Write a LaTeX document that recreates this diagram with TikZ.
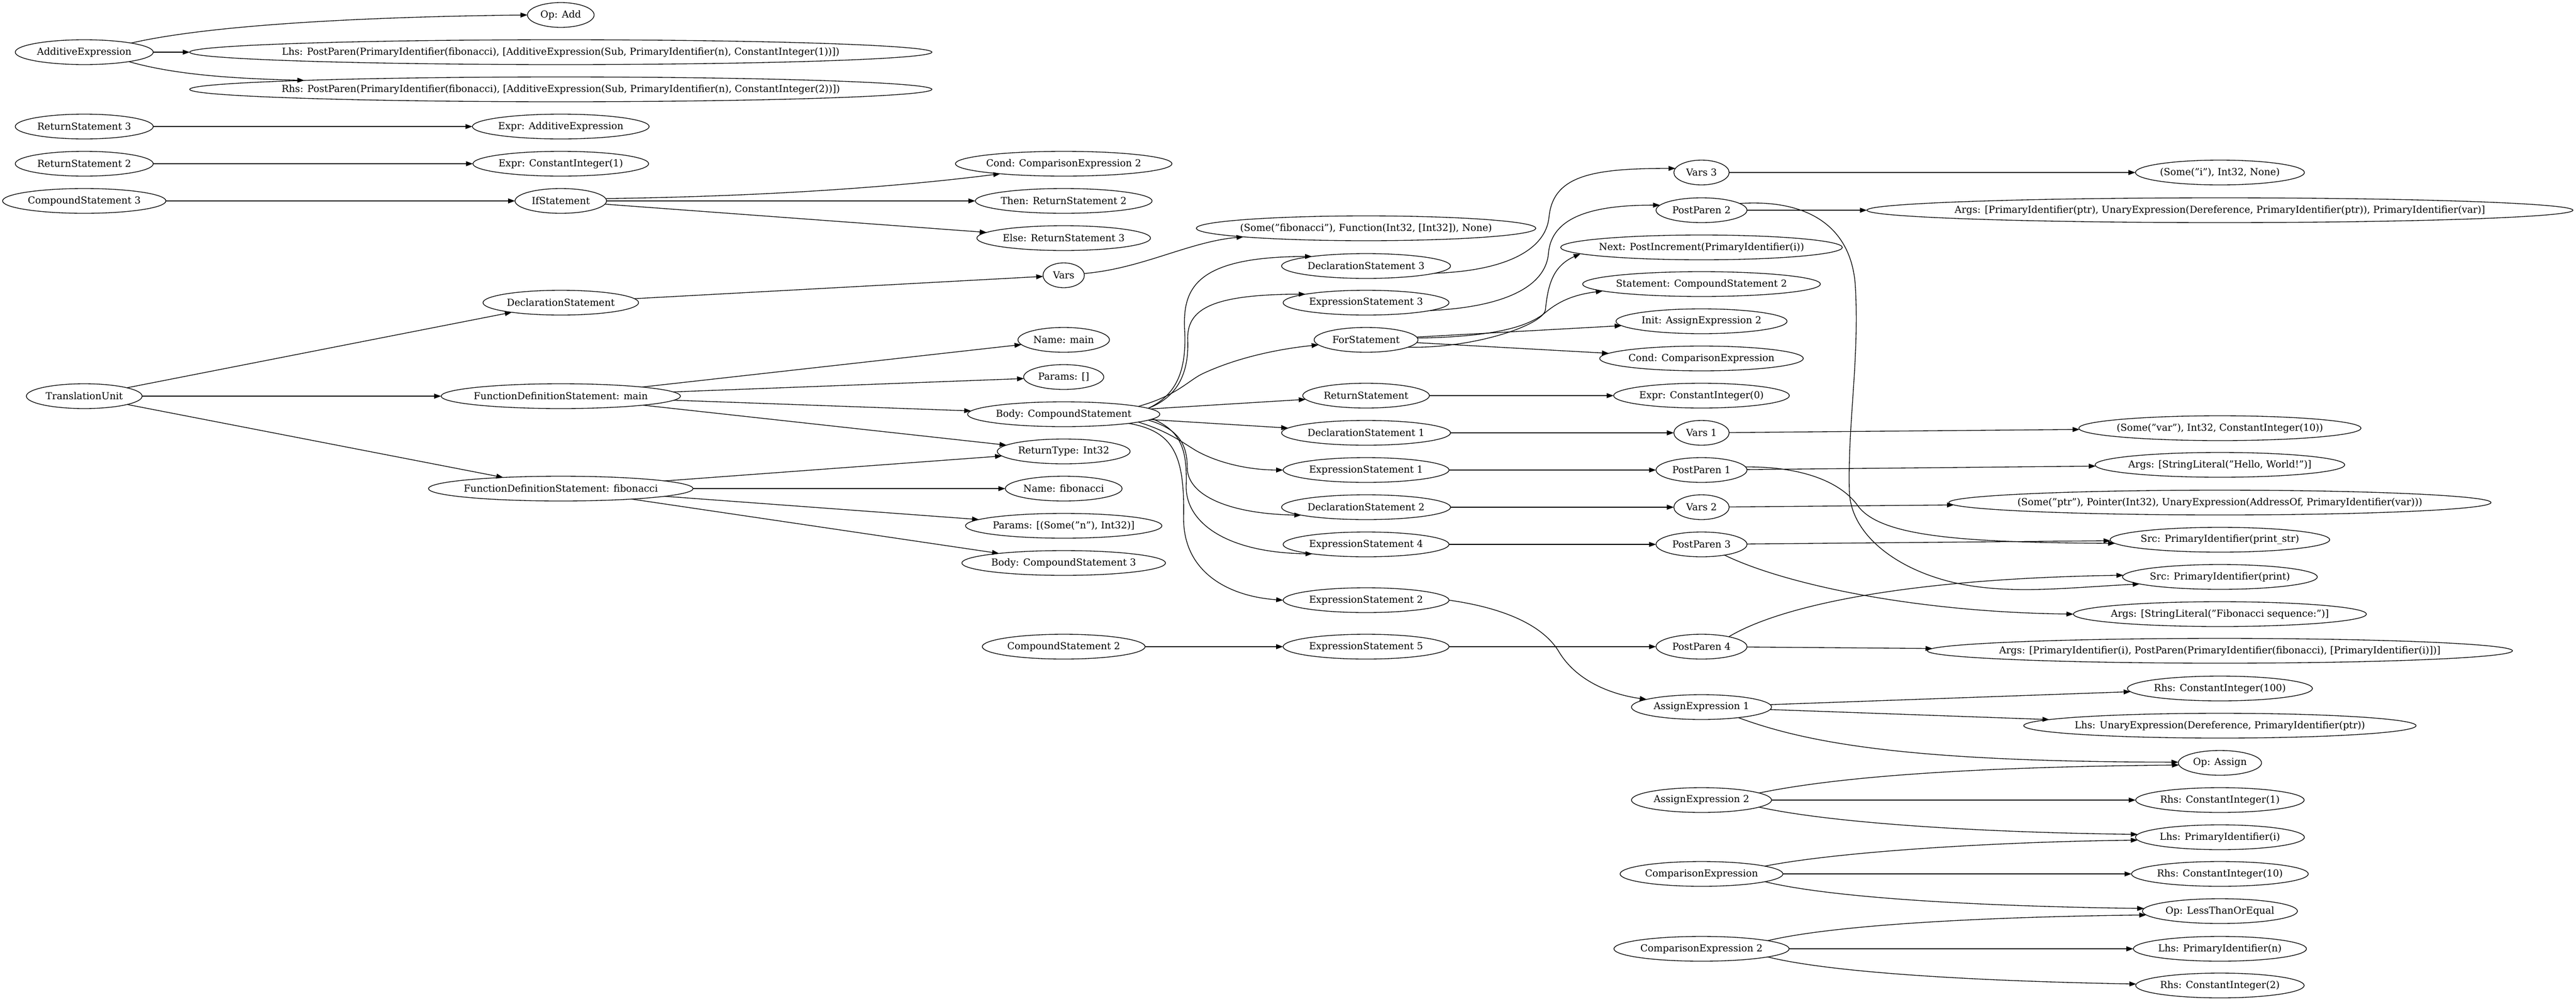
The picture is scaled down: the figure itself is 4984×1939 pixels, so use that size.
\documentclass[tikz,border=0pt]{standalone}
\usepackage{fontspec}
\setmainfont{DejaVu Serif}
\usetikzlibrary{shapes.geometric,arrows.meta}
\tikzset{
  gv/.style={draw, ellipse, line width=1pt, inner sep=0pt, outer sep=0pt,
    minimum height=36pt, font=\fontsize{14pt}{17pt}\selectfont},
  edg/.style={-{Triangle[length=10pt,width=7pt]}, line width=1pt},
}
\newcommand\gn[5]{\node[gv, minimum width=#4*0.75pt] (#1) at (#2,#3) {\hbox to 0pt{\hss #5\hss}};}
\begin{document}
\begin{tikzpicture}[x=0.75pt,y=-0.75pt]
\useasboundingbox (0,0) rectangle (4984,1939);
% column 0
\gn{aexp}{163}{101}{267}{AdditiveExpression}
\gn{ret3}{163}{245}{267}{ReturnStatement 3}
\gn{ret2}{163}{317}{267}{ReturnStatement 2}
\gn{cs3}{163}{389}{316}{CompoundStatement 3}
\gn{tu}{163}{767}{224}{TranslationUnit}
% column 1
\gn{opadd}{1085}{29}{129}{Op: Add}
\gn{lhs1}{1085}{101}{1436}{Lhs: PostParen(PrimaryIdentifier(fibonacci), [AdditiveExpression(Sub, PrimaryIdentifier(n), ConstantInteger(1))])}
\gn{rhs1}{1085}{173}{1436}{Rhs: PostParen(PrimaryIdentifier(fibonacci), [AdditiveExpression(Sub, PrimaryIdentifier(n), ConstantInteger(2))])}
\gn{expradd}{1085}{245}{342}{Expr: AdditiveExpression}
\gn{exprc1}{1085}{317}{340}{Expr: ConstantInteger(1)}
\gn{ifs}{1085}{389}{177}{IfStatement}
\gn{decl}{1085}{586}{301}{DeclarationStatement}
\gn{fmain}{1085}{767}{463}{FunctionDefinitionStatement: main}
\gn{ffib}{1085}{946}{512}{FunctionDefinitionStatement: fibonacci}
% column 2
\gn{cond2}{2058}{317}{419}{Cond: ComparisonExpression 2}
\gn{ifthen}{2058}{389}{342}{Then: ReturnStatement 2}
\gn{ifelse}{2058}{461}{336}{Else: ReturnStatement 3}
\gn{vars}{2058}{533}{80}{Vars}
\gn{nmain}{2058}{658}{177}{Name: main}
\gn{pmain}{2058}{730}{155}{Params: []}
\gn{body}{2058}{802}{372}{Body: CompoundStatement}
\gn{rtype}{2058}{874}{257}{ReturnType: Int32}
\gn{nfib}{2058}{946}{226}{Name: fibonacci}
\gn{pfib}{2058}{1018}{380}{Params: [(Some("n"), Int32)]}
\gn{bfib}{2058}{1090}{394}{Body: CompoundStatement 3}
\gn{cs2}{2058}{1252}{315}{CompoundStatement 2}
% column 3
\gn{somefib}{2643}{442}{657}{(Some("fibonacci"), Function(Int32, [Int32]), None)}
\gn{ds3}{2643}{515}{327}{DeclarationStatement 3}
\gn{es3}{2643}{586}{321}{ExpressionStatement 3}
\gn{fors}{2643}{658}{201}{ForStatement}
\gn{rets}{2643}{766}{245}{ReturnStatement}
\gn{ds1}{2643}{838}{327}{DeclarationStatement 1}
\gn{es1}{2643}{910}{321}{ExpressionStatement 1}
\gn{ds2}{2643}{982}{327}{DeclarationStatement 2}
\gn{es4}{2643}{1054}{321}{ExpressionStatement 4}
\gn{es2}{2643}{1162}{321}{ExpressionStatement 2}
\gn{es5}{2643}{1252}{321}{ExpressionStatement 5}
% column 4
\gn{vars3}{3292}{334}{107}{Vars 3}
\gn{pp2}{3292}{407}{176}{PostParen 2}
\gn{next}{3292}{479}{545}{Next: PostIncrement(PrimaryIdentifier(i))}
\gn{stmt}{3292}{550}{460}{Statement: CompoundStatement 2}
\gn{init}{3292}{622}{331}{Init: AssignExpression 2}
\gn{condc}{3292}{694}{394}{Cond: ComparisonExpression}
\gn{exprc0}{3292}{766}{340}{Expr: ConstantInteger(0)}
\gn{vars1}{3292}{838}{107}{Vars 1}
\gn{pp1}{3292}{910}{176}{PostParen 1}
\gn{vars2}{3292}{982}{107}{Vars 2}
\gn{pp3}{3292}{1054}{176}{PostParen 3}
\gn{pp4}{3292}{1252}{176}{PostParen 4}
\gn{asg1}{3292}{1369}{271}{AssignExpression 1}
\gn{asg2}{3292}{1549}{271}{AssignExpression 2}
\gn{cmp}{3292}{1692}{315}{ComparisonExpression}
\gn{cmp2}{3292}{1837}{339}{ComparisonExpression 2}
% column 5
\gn{somei}{4295}{334}{327}{(Some("i"), Int32, None)}
\gn{argsptr}{4295}{407}{1366}{Args: [PrimaryIdentifier(ptr), UnaryExpression(Dereference, PrimaryIdentifier(ptr)), PrimaryIdentifier(var)]}
\gn{somevar}{4295}{829}{546}{(Some("var"), Int32, ConstantInteger(10))}
\gn{argshello}{4295}{900}{483}{Args: [StringLiteral("Hello, World!")]}
\gn{someptr}{4295}{973}{1049}{(Some("ptr"), Pointer(Int32), UnaryExpression(AddressOf, PrimaryIdentifier(var)))}
\gn{srcps}{4295}{1045}{425}{Src: PrimaryIdentifier(print\_str)}
\gn{srcp}{4295}{1117}{377}{Src: PrimaryIdentifier(print)}
\gn{argsfib}{4295}{1189}{567}{Args: [StringLiteral("Fibonacci sequence:")]}
\gn{argsi}{4295}{1260}{1132}{Args: [PrimaryIdentifier(i), PostParen(PrimaryIdentifier(fibonacci), [PrimaryIdentifier(i)])]}
\gn{rhs100}{4295}{1333}{358}{Rhs: ConstantInteger(100)}
\gn{lhsu}{4295}{1405}{759}{Lhs: UnaryExpression(Dereference, PrimaryIdentifier(ptr))}
\gn{opasg}{4295}{1477}{161}{Op: Assign}
\gn{rhsc1}{4295}{1549}{326}{Rhs: ConstantInteger(1)}
\gn{lhsi}{4295}{1621}{327}{Lhs: PrimaryIdentifier(i)}
\gn{rhs10}{4295}{1692}{342}{Rhs: ConstantInteger(10)}
\gn{oplte}{4295}{1764}{300}{Op: LessThanOrEqual}
\gn{lhsn}{4295}{1837}{335}{Lhs: PrimaryIdentifier(n)}
\gn{rhsc2}{4295}{1908}{326}{Rhs: ConstantInteger(2)}
% edges
\draw[edg] (aexp.11) .. controls (420,45) and (750,32) .. (opadd.west);
\draw[edg] (aexp) -- (lhs1);
\draw[edg] (aexp.348) .. controls (340,145) and (450,152) .. (rhs1.178);
\draw[edg] (ret3) -- (expradd);
\draw[edg] (ret2) -- (exprc1);
\draw[edg] (cs3) -- (ifs);
\draw[edg] (ifs.3) .. controls (1500,380) and (1750,360) .. (cond2.189);
\draw[edg] (ifs) -- (ifthen);
\draw[edg] (ifs) -- (ifelse);
\draw[edg] (decl) -- (vars);
\draw[edg] (vars.5) .. controls (2210,520) and (2300,468) .. (somefib.184);
\draw[edg] (tu) -- (decl);
\draw[edg] (tu) -- (fmain);
\draw[edg] (tu) -- (ffib);
\draw[edg] (fmain) -- (nmain);
\draw[edg] (fmain) -- (pmain);
\draw[edg] (fmain) -- (body);
\draw[edg] (fmain) -- (rtype);
\draw[edg] (ffib) -- (rtype);
\draw[edg] (ffib) -- (nfib);
\draw[edg] (ffib) -- (pfib);
\draw[edg] (ffib) -- (bfib);
\draw[edg] (body.4) .. controls (2275,765) and (2296,720) .. (2292,640) .. controls (2288,560) and (2310,497) .. (ds3.170);
\draw[edg] (body.4) .. controls (2280,768) and (2300,720) .. (2298,660) .. controls (2295,600) and (2340,570) .. (es3.172);
\draw[edg] (body.6) .. controls (2280,765) and (2300,735) .. (2330,722) .. controls (2400,690) and (2480,675) .. (fors.186);
\draw[edg] (body) -- (rets);
\draw[edg] (body) -- (ds1);
\draw[edg] (body.354) .. controls (2260,835) and (2285,855) .. (2315,873) .. controls (2360,898) and (2420,910) .. (es1.west);
\draw[edg] (body.356) .. controls (2280,830) and (2297,860) .. (2297,905) .. controls (2297,960) and (2380,995) .. (ds2.187);
\draw[edg] (body.357) .. controls (2285,835) and (2297,870) .. (2295,940) .. controls (2293,1010) and (2370,1070) .. (es4.190);
\draw[edg] (body.352) .. controls (2270,835) and (2292,880) .. (2290,1000) .. controls (2288,1110) and (2380,1155) .. (es2.west);
\draw[edg] (cs2) -- (es5);
\draw[edg] (ds3.354) .. controls (2900,525) and (2990,490) .. (2997,420) .. controls (3005,340) and (3080,326) .. (vars3.171);
\draw[edg] (es3.353) .. controls (2900,595) and (2990,560) .. (2996,490) .. controls (3002,420) and (3080,397) .. (pp2.173);
\draw[edg] (fors.350) .. controls (2850,675) and (2985,630) .. (2990,600) .. controls (2995,550) and (3005,515) .. (next.183);
\draw[edg] (fors.2) .. controls (2900,652) and (2960,630) .. (2990,605) .. controls (3020,580) and (3050,570) .. (stmt.184);
\draw[edg] (fors) -- (init);
\draw[edg] (fors) -- (condc);
\draw[edg] (rets) -- (exprc0);
\draw[edg] (ds1) -- (vars1);
\draw[edg] (es1) -- (pp1);
\draw[edg] (ds2) -- (vars2);
\draw[edg] (es4) -- (pp3);
\draw[edg] (es5) -- (pp4);
\draw[edg] (es2.east) .. controls (2930,1180) and (2990,1220) .. (3015,1260) .. controls (3050,1320) and (3120,1345) .. (asg1.172);
\draw[edg] (vars3) -- (somei);
\draw[edg] (pp2) -- (argsptr);
\draw[edg] (pp2.10) .. controls (3500,385) and (3585,440) .. (3590,560) .. controls (3597,700) and (3575,820) .. (3578,950) .. controls (3580,1040) and (3680,1110) .. (3800,1132) .. controls (3900,1150) and (4000,1138) .. (srcp.185);
\draw[edg] (vars1) -- (somevar);
\draw[edg] (pp1) -- (argshello);
\draw[edg] (pp1.4) .. controls (3480,903) and (3560,930) .. (3595,980) .. controls (3640,1040) and (3800,1050) .. (srcps.182);
\draw[edg] (vars2) -- (someptr);
\draw[edg] (pp3) -- (srcps);
\draw[edg] (pp3.335) .. controls (3450,1130) and (3700,1185) .. (argsfib.west);
\draw[edg] (pp4.20) .. controls (3450,1170) and (3700,1120) .. (srcp.179);
\draw[edg] (pp4) -- (argsi);
\draw[edg] (asg1) -- (rhs100);
\draw[edg] (asg1) -- (lhsu);
\draw[edg] (asg1.344) .. controls (3500,1440) and (3700,1475) .. (opasg.179);
\draw[edg] (asg2.7) .. controls (3550,1505) and (3800,1485) .. (opasg.183);
\draw[edg] (asg2) -- (rhsc1);
\draw[edg] (asg2.353) .. controls (3550,1595) and (3850,1612) .. (lhsi.178);
\draw[edg] (cmp.7) .. controls (3550,1650) and (3850,1630) .. (lhsi.182);
\draw[edg] (cmp) -- (rhs10);
\draw[edg] (cmp.353) .. controls (3550,1740) and (3850,1755) .. (oplte.178);
\draw[edg] (cmp2.7) .. controls (3550,1790) and (3850,1775) .. (oplte.183);
\draw[edg] (cmp2) -- (lhsn);
\draw[edg] (cmp2.353) .. controls (3550,1885) and (3850,1900) .. (rhsc2.179);
\end{tikzpicture}
\end{document}
